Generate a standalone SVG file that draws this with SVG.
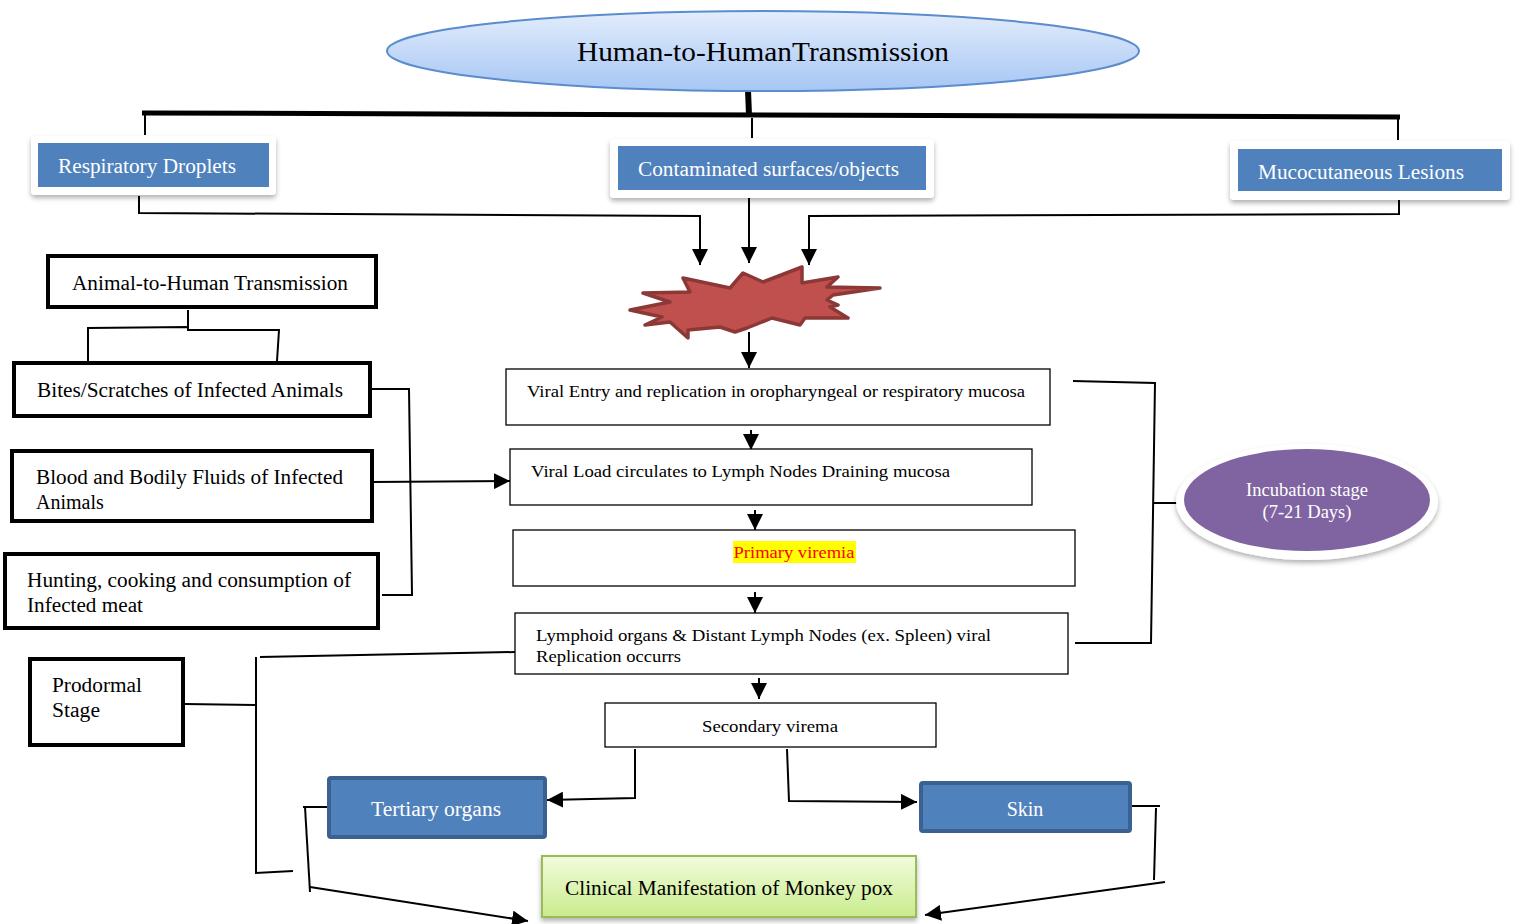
<svg xmlns="http://www.w3.org/2000/svg" width="1518" height="924" viewBox="0 0 1518 924">
<defs>
<linearGradient id="gBlue" x1="0" y1="0" x2="0" y2="1"><stop offset="0" stop-color="#e3edfc"/><stop offset="1" stop-color="#a6c6f4"/></linearGradient>
<linearGradient id="gGreen" x1="0" y1="0" x2="0" y2="1"><stop offset="0" stop-color="#f2fbdc"/><stop offset="1" stop-color="#c9ec8c"/></linearGradient>
<filter id="sh" x="-10%" y="-20%" width="120%" height="150%"><feDropShadow dx="0" dy="3" stdDeviation="2.5" flood-color="#000" flood-opacity="0.3"/></filter>
<marker id="ar" viewBox="0 0 10 10" refX="10" refY="5" markerWidth="16" markerHeight="16" markerUnits="userSpaceOnUse" orient="auto"><path d="M0,0 L10,5 L0,10 z" fill="#000"/></marker>
<style>
text{font-family:"Liberation Serif","Times New Roman",serif;fill:#000}
.w{fill:#fff}
.thick{fill:#fff;stroke:#000;stroke-width:4}
.thin{fill:#fff;stroke:#000;stroke-width:1.3}
.card{fill:#fff;filter:url(#sh)}
.blue{fill:#4f81bd}
.dblue{fill:#4f81bd;stroke:#3a6190;stroke-width:4}
.c line,.c polyline{stroke:#000;stroke-width:2;fill:none}
.arr{marker-end:url(#ar)}
</style>
</defs>

<g id="connectors" class="c">
<line x1="748" y1="90" x2="749" y2="115" style="stroke-width:6"/>
<line x1="142" y1="113" x2="1400" y2="117" style="stroke-width:5"/>
<line x1="145" y1="115" x2="145" y2="135"/>
<line x1="752" y1="118" x2="752" y2="138"/>
<line x1="1398" y1="118" x2="1398" y2="140"/>
<polyline points="139,196 139,213 700,216 700,265" class="arr"/>
<line x1="749" y1="192" x2="749" y2="263" class="arr"/>
<polyline points="1399,200 1399,214 809,216 809,265" class="arr"/>
<line x1="749" y1="332" x2="749" y2="368" class="arr"/>
<line x1="188" y1="310" x2="188" y2="328"/>
<polyline points="88,361 88,328 188,327 188,330 279,330 277,361"/>
<polyline points="372,389 409,389 412,595 382,595"/>
<line x1="372" y1="482" x2="510" y2="481" class="arr"/>
<line x1="751" y1="430" x2="751" y2="450" class="arr"/>
<line x1="755" y1="510" x2="755" y2="530" class="arr"/>
<line x1="755" y1="592" x2="755" y2="613" class="arr"/>
<line x1="759" y1="678" x2="759" y2="699" class="arr"/>
<polyline points="1073,381 1155,383 1151,643 1075,643"/>
<line x1="1154" y1="503" x2="1177" y2="503"/>
<line x1="185" y1="704" x2="255" y2="705"/>
<polyline points="260,657 515,652"/>
<polyline points="256,657 256,873 293,871"/>
<polyline points="635,749 635,798 547,800" class="arr"/>
<polyline points="787,749 789,801 917,802" class="arr"/>
<polyline points="328,807 303,807"/>
<line x1="305" y1="807" x2="310" y2="892"/>
<line x1="310" y1="887" x2="528" y2="921" class="arr"/>
<line x1="1130" y1="806" x2="1160" y2="806"/>
<line x1="1156" y1="808" x2="1154" y2="880"/>
<line x1="1165" y1="882" x2="925" y2="915" class="arr"/>
</g>

<g id="h2h">
<ellipse cx="763" cy="51" rx="376" ry="40" fill="url(#gBlue)" stroke="#5b8ccc" stroke-width="2"/>
<text x="763" y="61" font-size="28" text-anchor="middle" textLength="372" lengthAdjust="spacingAndGlyphs">Human-to-HumanTransmission</text>
</g>

<g id="resp">
<rect x="31" y="136" width="245" height="59" rx="4" class="card"/>
<rect x="38" y="143" width="231" height="44" class="blue"/>
<text x="58" y="173" font-size="20" class="w" textLength="178" lengthAdjust="spacingAndGlyphs">Respiratory Droplets</text>
</g>

<g id="contam">
<rect x="610" y="139" width="324" height="59" rx="4" class="card"/>
<rect x="618" y="146" width="308" height="44" class="blue"/>
<text x="638" y="176" font-size="20" class="w" textLength="261" lengthAdjust="spacingAndGlyphs">Contaminated surfaces/objects</text>
</g>

<g id="muco">
<rect x="1230" y="141" width="280" height="59" rx="4" class="card"/>
<rect x="1238" y="149" width="264" height="42" class="blue"/>
<text x="1258" y="179" font-size="20" class="w" textLength="206" lengthAdjust="spacingAndGlyphs">Mucocutaneous Lesions</text>
</g>

<g id="explosion">
<polygon points="683,278 730,288 743,273 763,282 802,267 802,283 838,277 827,287 880,288 833,295 827,300 838,305 830,307 848,318 805,318 800,325 772,318 747,328 735,332 720,327 688,330 688,338 670,322 645,325 662,317 630,310 670,302 643,293 690,292" fill="#c0504d" stroke="#8c3836" stroke-width="3.5" stroke-linejoin="round"/>
</g>

<g id="a2h">
<rect x="48" y="256" width="328" height="51" class="thick"/>
<text x="72" y="290" font-size="20" textLength="276" lengthAdjust="spacingAndGlyphs">Animal-to-Human Transmission</text>
</g>

<g id="bites">
<rect x="14" y="363" width="356" height="53" class="thick"/>
<text x="37" y="397" font-size="20" textLength="306" lengthAdjust="spacingAndGlyphs">Bites/Scratches of Infected Animals</text>
</g>

<g id="blood">
<rect x="12" y="451" width="360" height="70" class="thick"/>
<text x="36" y="484" font-size="20" textLength="307" lengthAdjust="spacingAndGlyphs">Blood and Bodily Fluids of Infected</text>
<text x="36" y="509" font-size="20">Animals</text>
</g>

<g id="hunting">
<rect x="5" y="554" width="373" height="74" class="thick"/>
<text x="27" y="587" font-size="20" textLength="324" lengthAdjust="spacingAndGlyphs">Hunting, cooking and consumption of</text>
<text x="27" y="612" font-size="20" textLength="116" lengthAdjust="spacingAndGlyphs">Infected meat</text>
</g>

<g id="entry">
<rect x="506" y="369" width="544" height="56" class="thin"/>
<text x="527" y="397" font-size="17" textLength="498" lengthAdjust="spacingAndGlyphs">Viral Entry and replication in oropharyngeal or respiratory mucosa</text>
</g>

<g id="load">
<rect x="510" y="449" width="522" height="56" class="thin"/>
<text x="531" y="477" font-size="17" textLength="419" lengthAdjust="spacingAndGlyphs">Viral Load circulates to Lymph Nodes Draining mucosa</text>
</g>

<g id="primary">
<rect x="513" y="530" width="562" height="56" class="thin"/>
<rect x="733" y="541" width="123" height="22" fill="#ffff00"/>
<text x="794" y="558" font-size="17" text-anchor="middle" style="fill:#ff0000" textLength="121" lengthAdjust="spacingAndGlyphs">Primary viremia</text>
</g>

<g id="lymphoid">
<rect x="515" y="613" width="553" height="61" class="thin"/>
<text x="536" y="641" font-size="17" textLength="455" lengthAdjust="spacingAndGlyphs">Lymphoid organs &amp; Distant Lymph Nodes (ex. Spleen) viral</text>
<text x="536" y="662" font-size="17" textLength="145" lengthAdjust="spacingAndGlyphs">Replication occurrs</text>
</g>

<g id="secondary">
<rect x="605" y="703" width="331" height="44" class="thin"/>
<text x="770" y="732" font-size="17" text-anchor="middle" textLength="136" lengthAdjust="spacingAndGlyphs">Secondary virema</text>
</g>

<g id="incubation">
<ellipse cx="1307" cy="502" rx="131" ry="58" fill="#fff" filter="url(#sh)"/>
<ellipse cx="1307" cy="500" rx="123" ry="51" fill="#8064a2"/>
<text x="1307" y="496" font-size="18" class="w" text-anchor="middle" textLength="122" lengthAdjust="spacingAndGlyphs">Incubation stage</text>
<text x="1307" y="518" font-size="18" class="w" text-anchor="middle" textLength="89" lengthAdjust="spacingAndGlyphs">(7-21 Days)</text>
</g>

<g id="prodormal">
<rect x="30" y="659" width="153" height="86" class="thick"/>
<text x="52" y="692" font-size="20" textLength="90" lengthAdjust="spacingAndGlyphs">Prodormal</text>
<text x="52" y="717" font-size="20" textLength="48" lengthAdjust="spacingAndGlyphs">Stage</text>
</g>

<g id="tertiary">
<rect x="329" y="778" width="216" height="59" rx="2" class="dblue"/>
<text x="436" y="816" font-size="20" class="w" text-anchor="middle" textLength="130" lengthAdjust="spacingAndGlyphs">Tertiary organs</text>
</g>

<g id="skin">
<rect x="921" y="783" width="209" height="48" rx="2" class="dblue"/>
<text x="1025" y="816" font-size="20" class="w" text-anchor="middle">Skin</text>
</g>

<g id="clinical">
<rect x="542" y="856" width="374" height="61" fill="url(#gGreen)" stroke="#9bbb59" stroke-width="2" filter="url(#sh)"/>
<text x="729" y="895" font-size="20" text-anchor="middle" textLength="328" lengthAdjust="spacingAndGlyphs">Clinical Manifestation of Monkey pox</text>
</g>
</svg>
